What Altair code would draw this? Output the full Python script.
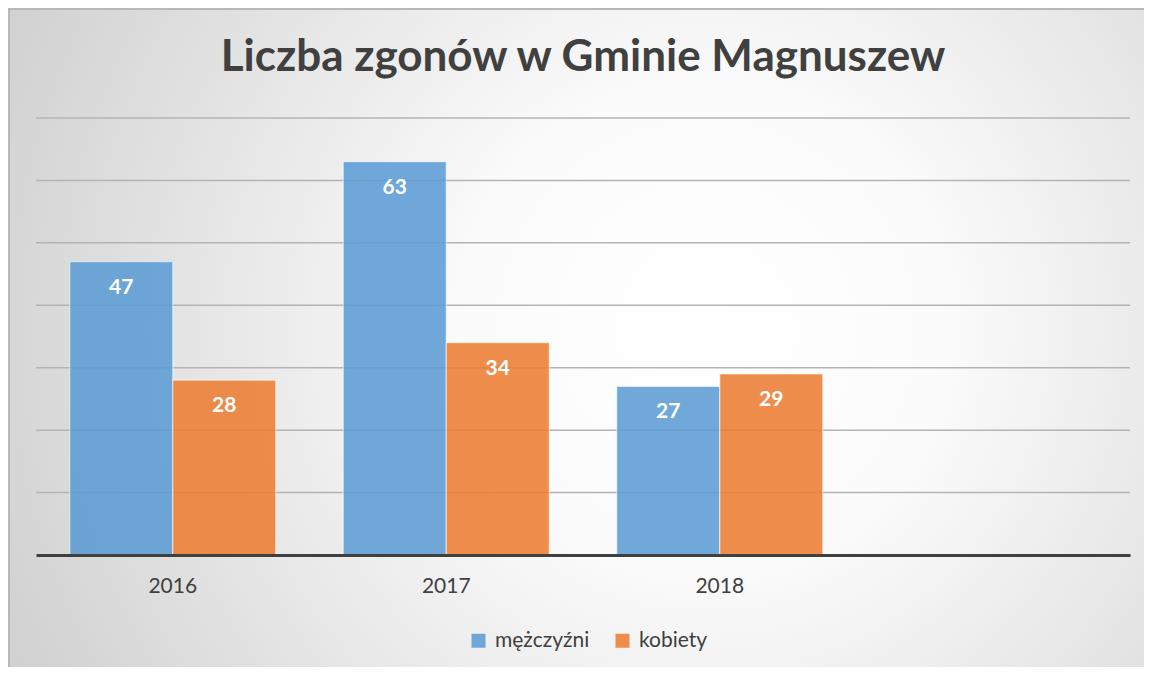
import altair as alt
import pandas as pd

# ---- data ----
years = ["2016", "2017", "2018"]
x_slots = ["2016", "2017", "2018", ""]          # fourth, empty category slot
series = ["mężczyźni", "kobiety"]
men = [47, 63, 27]
women = [28, 34, 29]
grid_values = [10, 20, 30, 40, 50, 60, 70]
title_text = "Liczba zgonów w Gminie Magnuszew"

colors = ["#5b9bd5", "#ed7d31"]
FONT = "Lato"
TXT = "#404040"

rows = []
for i, y in enumerate(years):
    rows.append({"rok": y, "płeć": series[0], "liczba": men[i]})
    rows.append({"rok": y, "płeć": series[1], "liczba": women[i]})
df = pd.DataFrame(rows)
grid_df = pd.DataFrame({"g": grid_values})
bg_df = pd.DataFrame({"b": [0]})

W, H = 1094, 437
PAD = {"left": 28, "top": 110, "right": 14, "bottom": 112}

x_enc = alt.X(
    "rok:N",
    scale=alt.Scale(domain=x_slots, paddingInner=0.2468, paddingOuter=0.1234),
    axis=alt.Axis(
        title=None, labelAngle=0, ticks=False, tickSize=0,
        domainColor=TXT, domainWidth=3, labelFont=FONT, labelFontSize=21,
        labelColor=TXT, labelPadding=20, zindex=1, grid=False,
    ),
)
y_scale = alt.Scale(domain=[0, 70], nice=False, zero=True)
xo = alt.XOffset("płeć:N", scale=alt.Scale(domain=series, paddingInner=0, paddingOuter=0))

bg = alt.Chart(bg_df).mark_rect(
    color=alt.RadialGradient(
        gradient="radial",
        x1=0.6, y1=0.48, r1=0.0,
        x2=0.6, y2=0.48, r2=0.82,
        stops=[
            alt.GradientStop(offset=0.0, color="#ffffff"),
            alt.GradientStop(offset=0.25, color="#fbfbfb"),
            alt.GradientStop(offset=1.0, color="#c2c2c2"),
        ],
    ),
    stroke="#b8b8b8", strokeWidth=2,
).encode(
    x=alt.value(-27), x2=alt.value(W + 40),
    y=alt.value(-109), y2=alt.value(H + 140),
)

grid = alt.Chart(grid_df).mark_rule(color="#b4b4b4", strokeWidth=1.5).encode(
    y=alt.Y("g:Q", scale=y_scale, axis=None)
)

bars = alt.Chart(df).mark_bar(
    fillOpacity=0.87, stroke="#ffffff", strokeOpacity=0.55, strokeWidth=1.2
).encode(
    x=x_enc,
    xOffset=xo,
    y=alt.Y("liczba:Q", scale=y_scale, axis=None),
    color=alt.Color(
        "płeć:N",
        scale=alt.Scale(domain=series, range=colors),
        legend=alt.Legend(
            title=None, orient="none", legendX=432, legendY=512,
            direction="horizontal", symbolType="square", symbolSize=196,
            symbolOpacity=0.87, symbolStrokeWidth=0,
            labelFont=FONT, labelFontSize=21, labelColor=TXT,
            labelOffset=6, columnPadding=22, padding=0,
        ),
    ),
)

labels = alt.Chart(df).mark_text(
    color="white", font=FONT, fontSize=21, fontWeight="bold",
    baseline="middle", dy=26,
).encode(
    x=x_enc,
    xOffset=xo,
    y=alt.Y("liczba:Q", scale=y_scale, axis=None),
    text=alt.Text("liczba:Q"),
)

chart = alt.layer(bg, grid, bars, labels).properties(
    width=W, height=H,
    autosize=alt.AutoSizeParams(type="none"),
    padding=PAD,
    title=alt.TitleParams(
        text=title_text, font=FONT, fontSize=44, fontWeight="bold",
        color=TXT, anchor="middle", frame="group", baseline="alphabetic",
        offset=0, dy=107,
    ),
).configure_view(stroke=None)

chart.save("out.html", embed_options={"renderer": "svg", "actions": False})
